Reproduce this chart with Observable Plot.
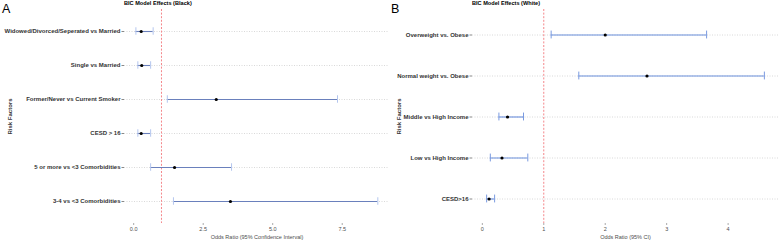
<!DOCTYPE html>
<html>
<head>
<meta charset="utf-8">
<script src="https://cdn.jsdelivr.net/npm/d3@7"></script>
<script src="https://cdn.jsdelivr.net/npm/@observablehq/plot@0.6"></script>
<style>
  body { margin: 0; background: #fff; font-family: "Liberation Sans", Arial, sans-serif; }
  #wrap { position: relative; width: 778px; height: 240px; overflow: hidden; }
  .panel { position: absolute; top: 0; width: 389px; height: 240px; }
  .lab { position: absolute; font-size: 12.5px; line-height: 1; color: #000; }
  .ttl { position: absolute; font-size: 5.6px; font-weight: bold; line-height: 1; color: #000; white-space: nowrap; }
</style>
</head>
<body>
<div id="wrap">
  <div class="panel" id="pa" style="left:0"></div>
  <div class="panel" id="pb" style="left:389px"></div>
  <div class="lab" style="left:2px;top:3px">A</div>
  <div class="lab" style="left:391px;top:3px">B</div>
  <div class="ttl" style="left:124px;top:1px">BIC Model Effects (Black)</div>
  <div class="ttl" style="left:472px;top:1px">BIC Model Effects (White)</div>
</div>
<script>
// Panel A data (Black)
const factorsA = [
  "Widowed/Divorced/Seperated vs Married",
  "Single vs Married",
  "Former/Never vs Current Smoker",
  "CESD > 16",
  "5 or more vs <3 Comorbidities",
  "3-4 vs <3 Comorbidities"
];
const orA    = [0.27, 0.29, 2.97, 0.27, 1.47, 3.48];
const lowerA = [0.08, 0.15, 1.21, 0.15, 0.61, 1.43];
const upperA = [0.70, 0.61, 7.33, 0.61, 3.52, 8.78];
const ticksA = [0, 2.5, 5, 7.5];

// Panel B data (White)
const factorsB = [
  "Overweight vs. Obese",
  "Normal weight vs. Obese",
  "Middle vs High Income",
  "Low vs High Income",
  "CESD>16"
];
const orB    = [2.00, 2.68, 0.41, 0.32, 0.11];
const lowerB = [1.12, 1.57, 0.27, 0.13, 0.07];
const upperB = [3.65, 4.59, 0.67, 0.74, 0.20];
const ticksB = [0, 1, 2, 3, 4];

function panel({factors, or, lower, upper, ticks, fmt, domain, marginLeft, xLabel, lineColor, capColor}) {
  const rows = factors.map((f, i) => ({f, or: or[i], lo: lower[i], hi: upper[i]}));
  const marginTop = 9, marginBottom = 17;
  const H = 240 - marginTop - marginBottom;
  const step = H / (factors.length + 0.2);
  const capH = 8;
  const inset = (step - capH) / 2;
  return Plot.plot({
    width: 389,
    height: 240,
    marginLeft,
    marginRight: 0,
    marginTop,
    marginBottom,
    style: {fontFamily: "'Liberation Sans', Arial, sans-serif", background: "#fff"},
    x: {domain, ticks},
    y: {type: "band", domain: factors, paddingInner: 0, paddingOuter: 0.1},
    marks: [
      Plot.ruleY(factors, {y: d => d, stroke: "#c8c8c8", strokeWidth: 0.7, strokeDasharray: "1,1.5"}),
      Plot.ruleX([1], {stroke: "#f4868a", strokeWidth: 1, strokeDasharray: "2,1.6"}),
      Plot.ruleY(rows, {y: "f", x1: "lo", x2: "hi", stroke: lineColor, strokeWidth: 1.1}),
      Plot.tickX(rows, {x: "lo", y: "f", stroke: capColor, strokeWidth: 1, insetTop: inset, insetBottom: inset}),
      Plot.tickX(rows, {x: "hi", y: "f", stroke: capColor, strokeWidth: 1, insetTop: inset, insetBottom: inset}),
      Plot.dot(rows, {x: "or", y: "f", r: 1.6, fill: "#000", stroke: "none"}),
      Plot.axisY({tickSize: 2.5, tickPadding: 1.5, fontSize: 6, fontWeight: "bold", fill: "#333", stroke: "#888",
        label: "Risk Factors", labelAnchor: "center", labelArrow: "none", labelOffset: marginLeft - 7}),
      Plot.axisX({ticks, tickFormat: fmt, tickSize: 2, tickPadding: 2, fontSize: 5.5, fill: "#4d4d4d", stroke: "#aaa",
        label: xLabel, labelAnchor: "center", labelArrow: "none", labelOffset: 15})
    ]
  });
}

document.getElementById("pa").appendChild(panel({
  factors: factorsA, or: orA, lower: lowerA, upper: upperA, ticks: ticksA,
  fmt: d3.format(".1f"), domain: [-0.33, 9.2], marginLeft: 124,
  xLabel: "Odds Ratio (95% Confidence Interval)", lineColor: "#6a80bc", capColor: "#b4c6ee"
}));
document.getElementById("pb").appendChild(panel({
  factors: factorsB, or: orB, lower: lowerB, upper: upperB, ticks: ticksB,
  fmt: d3.format("d"), domain: [-0.16, 4.82], marginLeft: 83,
  xLabel: "Odds Ratio (95% CI)", lineColor: "#6a8fdc", capColor: "#7a9ae0"
}));
</script>
</body>
</html>
